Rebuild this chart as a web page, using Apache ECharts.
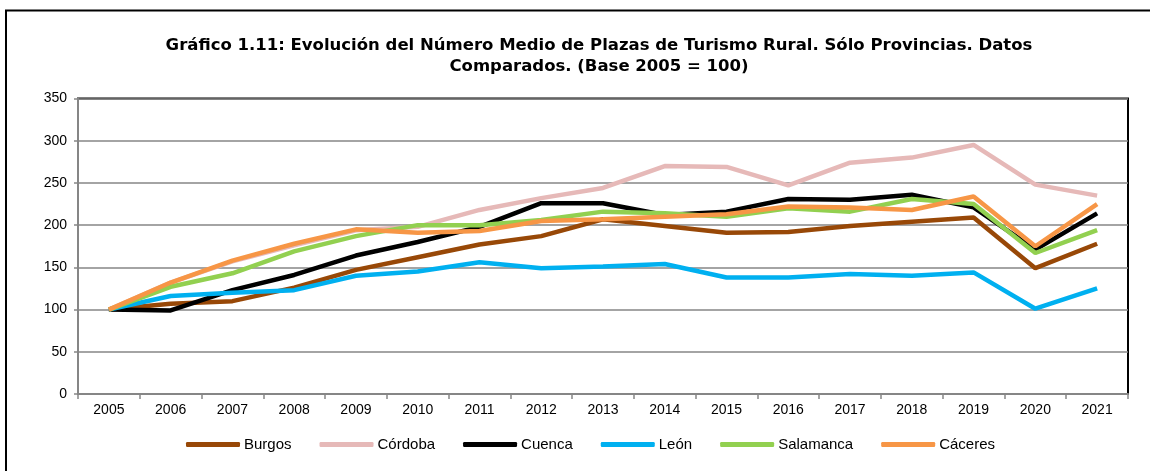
<!DOCTYPE html>
<html>
<head>
<meta charset="utf-8">
<script src="https://cdn.jsdelivr.net/npm/echarts@6/dist/echarts.min.js"></script>
<style>
    html, body { margin: 0; padding: 0; background: #fff; }
    #chart { width: 1150px; height: 471px; }
</style>
</head>
<body>
<div id="chart"></div>
<script>
// años
const years = ['2005', '2006', '2007', '2008', '2009', '2010', '2011', '2012', '2013',
               '2014', '2015', '2016', '2017', '2018', '2019', '2020', '2021'];

// base 2005 = 100
const burgos    = [100, 107, 110, 126, 147, 162, 177, 187, 207, 199, 191, 192, 199, 204, 209, 149, 178];
const cordoba   = [100, 132, 157, 176, 194, 198, 218, 232, 244, 270, 269, 247, 274, 280, 295, 248, 235];
const cuenca    = [100, 99, 123, 141, 164, 180, 198, 226, 226, 212, 216, 231, 230, 236, 221, 171, 214];
const leon      = [100, 116, 120, 123, 140, 145, 156, 149, 151, 154, 138, 138, 142, 140, 144, 101, 125];
const salamanca = [100, 127, 143, 169, 187, 200, 200, 206, 216, 214, 210, 220, 216, 231, 225, 167, 194];
const caceres   = [100, 132, 158, 178, 195, 191, 193, 205, 207, 210, 213, 222, 221, 218, 234, 175, 225];

const seriesNames = ['Burgos', 'Córdoba', 'Cuenca', 'León', 'Salamanca', 'Cáceres'];
const seriesData = [burgos, cordoba, cuenca, leon, salamanca, caceres];
const colors = ['#984807', '#E6B9B8', '#000000', '#00B0F0', '#92D050', '#F79646'];

let chart = echarts.init(document.getElementById('chart'));

let option = {
    animation: false,
    color: colors,
    textStyle: { fontFamily: 'Liberation Sans', color: '#000' },
    title: {
        text: 'Gráfico 1.11: Evolución del Número Medio de Plazas de Turismo Rural. Sólo Provincias. Datos\nComparados. (Base 2005 = 100)',
        left: 594,
        textAlign: 'center',
        top: 30,
        textStyle: {
            fontFamily: 'DejaVu Sans',
            fontWeight: 'bold',
            fontSize: 16.5,
            lineHeight: 21,
            color: '#000'
        }
    },
    graphic: [{
        // marco exterior
        type: 'rect',
        shape: { x: 6, y: 10.5, width: 1200, height: 500 },
        style: { fill: 'none', stroke: '#000', lineWidth: 2 },
        silent: true
    }],
    legend: {
        left: 181,
        top: 432,
        itemWidth: 54,
        itemHeight: 5,
        itemGap: 28,
        icon: 'roundRect',
        textStyle: { fontSize: 15, fontFamily: 'Liberation Sans', color: '#000', padding: [0, 0, 0, -1] },
        data: seriesNames
    },
    grid: {
        left: 78,
        right: 22,
        top: 98.5,
        bottom: 77,
        show: true,
        borderColor: '#000',
        borderWidth: 2
    },
    xAxis: {
        type: 'category',
        data: years,
        boundaryGap: true,
        axisLine: { lineStyle: { color: '#868686', width: 2 } },
        axisTick: { show: true, length: 5, lineStyle: { color: '#868686', width: 1.5 } },
        axisLabel: { fontSize: 14, color: '#000', margin: 9, interval: 0 }
    },
    yAxis: {
        type: 'value',
        min: 0,
        max: 350,
        interval: 50,
        axisLine: { show: true, lineStyle: { color: '#868686', width: 2 } },
        axisTick: { show: true, length: 4, lineStyle: { color: '#868686', width: 1.5 } },
        axisLabel: { fontSize: 14, color: '#000', margin: 11 },
        splitLine: { lineStyle: { color: '#868686', width: 1.5 } }
    },
    series: seriesNames.map((name, i) => ({
        name: name,
        type: 'line',
        data: seriesData[i],
        symbol: 'none',
        lineStyle: { width: 4.5, color: colors[i] },
        itemStyle: { color: colors[i] },
        z: 2 + i
    }))
};

chart.setOption(option);
</script>
</body>
</html>
